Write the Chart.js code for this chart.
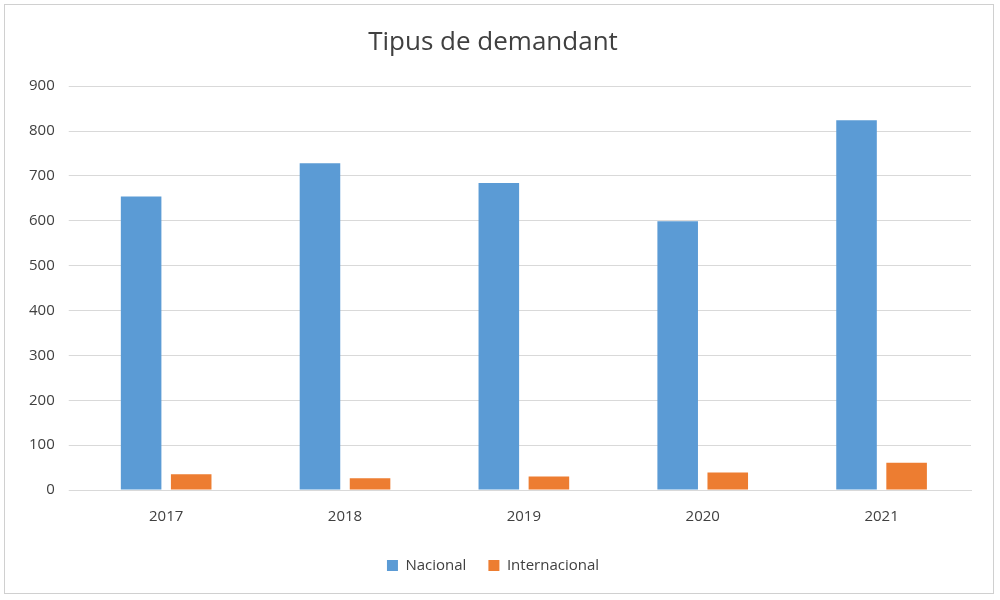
<!DOCTYPE html>
<html><head><meta charset="utf-8">
<script src="https://cdn.jsdelivr.net/npm/chart.js@4"></script>
<style>html,body{margin:0;background:#fff}#w{position:absolute;left:4px;top:4px;width:990px;height:590px;border:1px solid #d0d0d0;box-sizing:border-box}</style>
</head><body><div id="w"><canvas id="c"></canvas></div>
<script>
const categories=["2017","2018","2019","2020","2021"];
const nacional=[654,728,684,599,824];
const internacional=[35,26,30,39,61];
const ticks=[0,100,200,300,400,500,600,700,800,900];
new Chart(document.getElementById('c'),{type:'bar',
data:{labels:categories,datasets:[
{label:'Nacional',data:nacional,backgroundColor:'#5b9bd5'},
{label:'Internacional',data:internacional,backgroundColor:'#ed7d31'}]},
options:{responsive:true,maintainAspectRatio:false,animation:false,
layout:{padding:{left:10,right:22,top:8,bottom:10}},
categoryPercentage:0.56,barPercentage:0.81,
plugins:{title:{display:true,text:'Tipus de demandant',color:'#404040',font:{family:'Open Sans',size:26,weight:'normal'},padding:{top:14,bottom:28}},
legend:{position:'bottom',labels:{boxWidth:11,boxHeight:11,color:'#404040',font:{family:'Open Sans',size:15},padding:22}},tooltip:{enabled:false}},
scales:{x:{grid:{display:false},border:{color:'#d9d9d9'},ticks:{color:'#404040',font:{family:'Open Sans',size:15},padding:10}},
y:{min:0,max:900,afterBuildTicks:a=>{a.ticks=ticks.map(v=>({value:v}))},grid:{color:'#d9d9d9'},border:{display:false},ticks:{color:'#404040',font:{family:'Open Sans',size:15},padding:14}}}}});
</script></body></html>
